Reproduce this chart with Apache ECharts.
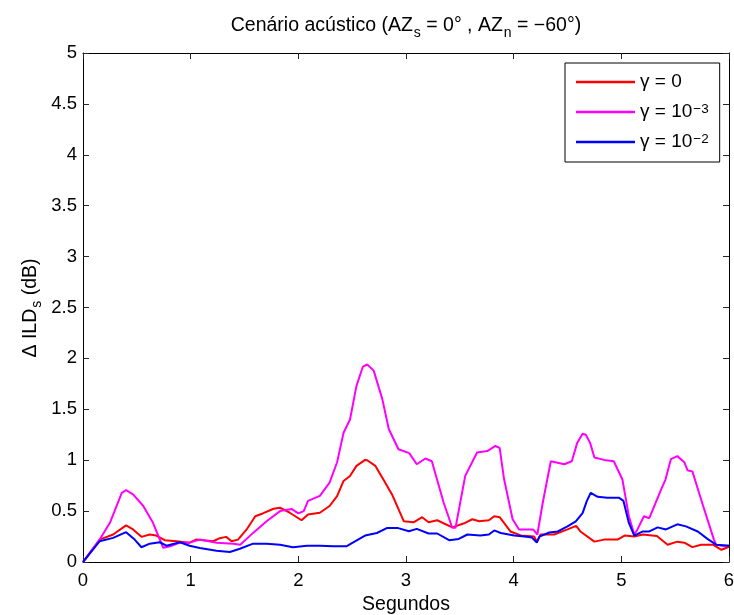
<!DOCTYPE html>
<html>
<head>
<meta charset="utf-8">
<script src="https://cdn.jsdelivr.net/npm/echarts@6/dist/echarts.min.js"></script>
<style>
  html, body { margin: 0; padding: 0; background: #fff; }
  #chart { width: 734px; height: 615px; }
</style>
</head>
<body>
<div id="chart"></div>
<script>
// Time (s) and ΔILD_s (dB) for each regularisation value γ
const tGamma0 = [0, 0.155, 0.28, 0.40, 0.465, 0.543, 0.62, 0.68, 0.76, 0.87, 0.99, 1.05, 1.21, 1.27, 1.33, 1.38, 1.44, 1.52, 1.60, 1.67, 1.77, 1.83, 1.92, 2.03, 2.09, 2.2, 2.29, 2.36, 2.42, 2.48, 2.54, 2.62, 2.64, 2.716, 2.79, 2.87, 2.98, 3.07, 3.15, 3.21, 3.29, 3.43, 3.54, 3.616, 3.68, 3.77, 3.82, 3.87, 3.97, 4.066, 4.19, 4.215, 4.25, 4.375, 4.50, 4.58, 4.62, 4.75, 4.84, 4.965, 5.03, 5.12, 5.2, 5.33, 5.43, 5.52, 5.585, 5.66, 5.74, 5.85, 5.93, 6.0];
const vGamma0 = [0, 0.22, 0.27, 0.36, 0.32, 0.247, 0.27, 0.26, 0.214, 0.204, 0.19, 0.22, 0.204, 0.234, 0.247, 0.204, 0.22, 0.32, 0.45, 0.477, 0.523, 0.533, 0.484, 0.41, 0.467, 0.484, 0.55, 0.648, 0.796, 0.845, 0.944, 1.003, 1.0, 0.944, 0.81, 0.664, 0.40, 0.39, 0.44, 0.39, 0.41, 0.34, 0.38, 0.42, 0.40, 0.41, 0.45, 0.44, 0.30, 0.26, 0.25, 0.20, 0.27, 0.27, 0.32, 0.355, 0.30, 0.20, 0.22, 0.22, 0.26, 0.25, 0.27, 0.255, 0.17, 0.20, 0.19, 0.146, 0.17, 0.17, 0.12, 0.15];

const tGamma3 = [0, 0.155, 0.25, 0.36, 0.40, 0.465, 0.56, 0.65, 0.745, 0.81, 0.90, 0.99, 1.085, 1.24, 1.395, 1.46, 1.58, 1.705, 1.83, 1.94, 2.0, 2.05, 2.09, 2.2, 2.29, 2.36, 2.42, 2.48, 2.54, 2.60, 2.64, 2.70, 2.78, 2.84, 2.93, 3.03, 3.10, 3.18, 3.24, 3.35, 3.43, 3.46, 3.55, 3.66, 3.755, 3.83, 3.87, 3.91, 3.99, 4.05, 4.18, 4.22, 4.27, 4.345, 4.47, 4.54, 4.59, 4.64, 4.67, 4.71, 4.75, 4.84, 4.93, 5.01, 5.07, 5.12, 5.15, 5.21, 5.26, 5.37, 5.41, 5.46, 5.52, 5.585, 5.615, 5.66, 5.71, 5.76, 5.86, 5.88, 5.94, 6.0];
const vGamma3 = [0, 0.22, 0.385, 0.68, 0.705, 0.665, 0.55, 0.385, 0.14, 0.155, 0.19, 0.19, 0.22, 0.19, 0.18, 0.17, 0.286, 0.40, 0.50, 0.52, 0.477, 0.50, 0.60, 0.65, 0.78, 0.98, 1.27, 1.40, 1.73, 1.92, 1.94, 1.88, 1.60, 1.306, 1.108, 1.069, 0.96, 1.017, 0.99, 0.582, 0.336, 0.336, 0.846, 1.075, 1.09, 1.14, 1.12, 0.82, 0.42, 0.32, 0.32, 0.27, 0.582, 0.99, 0.96, 0.99, 1.17, 1.26, 1.25, 1.17, 1.026, 1.003, 0.99, 0.81, 0.45, 0.27, 0.32, 0.45, 0.43, 0.714, 0.81, 1.01, 1.04, 0.98, 0.90, 0.89, 0.72, 0.55, 0.22, 0.17, 0.16, 0.16];

const tGamma2 = [0, 0.155, 0.28, 0.40, 0.48, 0.543, 0.62, 0.713, 0.775, 0.90, 0.99, 1.085, 1.24, 1.364, 1.457, 1.58, 1.705, 1.83, 1.95, 2.08, 2.2, 2.326, 2.45, 2.53, 2.62, 2.73, 2.826, 2.92, 3.027, 3.10, 3.21, 3.29, 3.40, 3.49, 3.57, 3.69, 3.77, 3.82, 3.88, 4.005, 4.10, 4.17, 4.215, 4.24, 4.33, 4.41, 4.50, 4.577, 4.64, 4.68, 4.716, 4.78, 4.87, 4.98, 5.02, 5.07, 5.12, 5.2, 5.26, 5.337, 5.415, 5.52, 5.6, 5.71, 5.80, 5.88, 6.0];
const vGamma2 = [0, 0.204, 0.237, 0.293, 0.22, 0.145, 0.18, 0.194, 0.16, 0.194, 0.16, 0.138, 0.11, 0.099, 0.13, 0.18, 0.18, 0.17, 0.145, 0.16, 0.16, 0.155, 0.155, 0.204, 0.26, 0.285, 0.335, 0.335, 0.302, 0.325, 0.28, 0.28, 0.214, 0.227, 0.27, 0.26, 0.27, 0.31, 0.285, 0.26, 0.25, 0.24, 0.19, 0.25, 0.29, 0.30, 0.35, 0.40, 0.48, 0.60, 0.68, 0.64, 0.63, 0.63, 0.60, 0.384, 0.26, 0.30, 0.30, 0.34, 0.32, 0.37, 0.35, 0.30, 0.227, 0.17, 0.16];

const seriesNames = ['γ = 0', 'γ = 10⁻³', 'γ = 10⁻²'];
// every legend entry uses the same token layout so the rows share one height
const legendRich = {
  'γ = 0': '{a|γ = 0}{p| }',
  'γ = 10⁻³': '{a|γ = 10}{p|−3}',
  'γ = 10⁻²': '{a|γ = 10}{p|−2}'
};

const xTicks = { min: 0, max: 6, interval: 1 };
const yTicks = { min: 0, max: 5, interval: 0.5 };

const FONT = 'Liberation Sans, Arial, Helvetica, sans-serif';

function pairs(t, v) { return t.map((x, i) => [x, v[i]]); }

function axisBase(extra) {
  return Object.assign({
    type: 'value',
    axisLine: { show: true, onZero: false, lineStyle: { color: '#000', width: 1 } },
    axisTick: { show: true, inside: true, length: 6, lineStyle: { color: '#262626', width: 1 } },
    splitLine: { show: false },
    axisLabel: { show: false }
  }, extra);
}

const chart = echarts.init(document.getElementById('chart'), null, { renderer: 'canvas' });

chart.setOption({
  backgroundColor: '#fff',
  animation: false,
  textStyle: { fontFamily: FONT },
  // fixed plot box; labels and names are allowed to sit outside it
  grid: { left: 83, right: 5, top: 53, bottom: 53, containLabel: false, outerBoundsMode: 'none' },
  xAxis: [
    axisBase(Object.assign({}, xTicks, {
      position: 'bottom',
      axisLabel: { show: true, color: '#000', fontSize: 18.5, fontFamily: FONT, margin: 9 },
      name: 'Segundos',
      nameLocation: 'middle',
      nameGap: 32,
      nameTextStyle: { color: '#000', fontSize: 19.5, fontFamily: FONT }
    })),
    axisBase(Object.assign({}, xTicks, { position: 'top' }))
  ],
  yAxis: [
    axisBase(Object.assign({}, yTicks, {
      position: 'left',
      axisLabel: { show: true, color: '#000', fontSize: 18.5, fontFamily: FONT, margin: 6 }
    })),
    axisBase(Object.assign({}, yTicks, { position: 'right' }))
  ],
  legend: {
    orient: 'vertical',
    left: 565,
    top: 63,
    data: seriesNames,
    icon: 'rect',
    itemWidth: 59,
    itemHeight: 2.5,
    itemGap: 0,
    padding: [9, 11, 0, 11],
    borderColor: '#000',
    borderWidth: 1,
    backgroundColor: '#fff',
    formatter: name => legendRich[name],
    textStyle: {
      color: '#000',
      fontFamily: FONT,
      rich: {
        a: { fontSize: 19, lineHeight: 20, fontFamily: FONT, color: '#000', verticalAlign: 'middle' },
        p: { fontSize: 13.5, lineHeight: 14, padding: [0, 0, 16, 1], fontFamily: FONT, color: '#000', verticalAlign: 'top' }
      }
    }
  },
  graphic: [
    {
      type: 'text',
      x: 406,
      y: 16,
      style: {
        text: '{a|Cenário acústico (AZ}{s|s}{a| = 0° , AZ}{s|n}{a| = −60°)}',
        fill: '#000',
        font: '19.5px ' + FONT,
        align: 'center',
        verticalAlign: 'top',
        rich: {
          a: { fontSize: 19.5, lineHeight: 22, fontFamily: FONT, verticalAlign: 'top' },
          s: { fontSize: 14, lineHeight: 22, padding: [10, 0, 0, 1], fontFamily: FONT, verticalAlign: 'top' }
        }
      }
    },
    {
      type: 'text',
      x: 32,
      y: 308,
      rotation: Math.PI / 2,
      style: {
        text: '{a|Δ ILD}{s|s}{a| (dB)}',
        fill: '#000',
        font: '19.5px ' + FONT,
        align: 'center',
        verticalAlign: 'middle',
        rich: {
          a: { fontSize: 19.5, lineHeight: 22, fontFamily: FONT, verticalAlign: 'top' },
          s: { fontSize: 14, lineHeight: 22, padding: [9, 0, 0, 1], fontFamily: FONT, verticalAlign: 'top' }
        }
      }
    }
  ],
  series: [
    { name: seriesNames[0], data: pairs(tGamma0, vGamma0), color: '#ff0000' },
    { name: seriesNames[1], data: pairs(tGamma3, vGamma3), color: '#ff00ff' },
    { name: seriesNames[2], data: pairs(tGamma2, vGamma2), color: '#0000ff' }
  ].map(s => ({
    type: 'line',
    name: s.name,
    data: s.data,
    xAxisIndex: 0,
    yAxisIndex: 0,
    showSymbol: false,
    symbol: 'none',
    itemStyle: { color: s.color },
    lineStyle: { color: s.color, width: 2 },
    emphasis: { disabled: true }
  }))
});
</script>
</body>
</html>
